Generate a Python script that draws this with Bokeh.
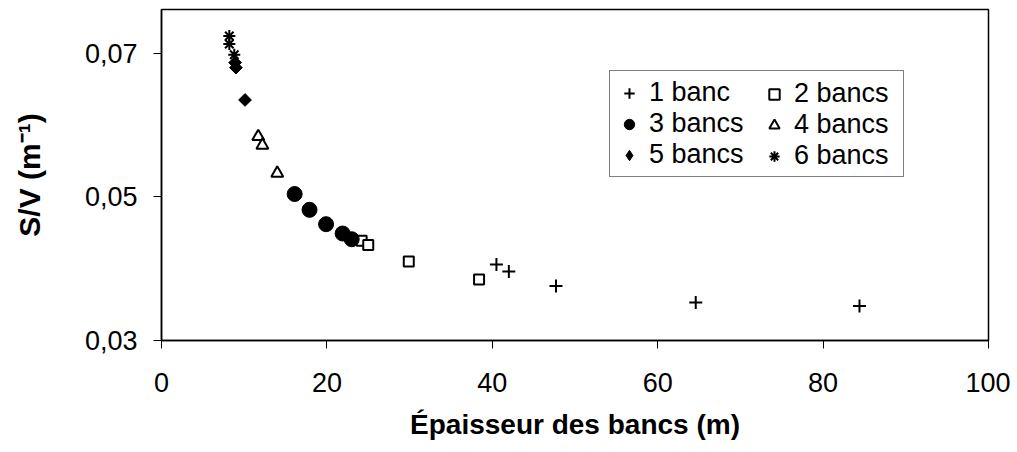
from bokeh.plotting import figure
from bokeh.models import Range1d, FixedTicker, CustomJSTickFormatter, Legend, LegendItem
from bokeh.embed import file_html
from bokeh.resources import INLINE

# Data
x1 = [40.5, 42.0, 47.7, 64.6, 84.4]
y1 = [0.0406, 0.0396, 0.0376, 0.0353, 0.0348]
x2 = [24.2, 25.0, 29.9, 38.4]
y2 = [0.0439, 0.0433, 0.0410, 0.0385]
x3 = [16.1, 17.9, 19.9, 21.9, 23.0]
y3 = [0.0504, 0.0482, 0.0462, 0.0449, 0.0441]
x4 = [11.7, 12.2, 14.0]
y4 = [0.0584, 0.0572, 0.0533]
x5 = [8.9, 9.0, 10.1]
y5 = [0.0687, 0.0680, 0.0635]
x6 = [8.2, 8.2, 8.8]
y6 = [0.0724, 0.0713, 0.0698]
labels = ["1 banc", "2 bancs", "3 bancs", "4 bancs", "5 bancs", "6 bancs"]
x_ticks = [0, 20, 40, 60, 80, 100]
y_ticks = [0.03, 0.05, 0.07]

FONT = "Liberation Sans"
W, H = 1010, 450

p = figure(width=W, height=H, output_backend="svg", toolbar_location=None,
           x_range=Range1d(0, 100), y_range=Range1d(0.03, 0.0761),
           min_border_left=161, min_border_right=W - 988, min_border_top=9,
           min_border_bottom=H - 340)
p.background_fill_color = "white"
p.border_fill_color = "white"
p.outline_line_color = "black"
p.outline_line_width = 1.5
p.xgrid.visible = False
p.ygrid.visible = False

for ax in (p.xaxis[0], p.yaxis[0]):
    ax.axis_line_color = "black"
    ax.axis_line_width = 1.5
    ax.major_tick_line_color = "black"
    ax.major_tick_line_width = 1
    ax.major_tick_out = 8
    ax.major_tick_in = 0
    ax.minor_tick_line_color = None
    ax.major_label_text_font = FONT
    ax.major_label_text_font_size = "27px"
    ax.major_label_text_color = "black"
    ax.axis_label_text_font = FONT
    ax.axis_label_text_font_style = "bold"
    ax.axis_label_text_color = "black"

p.xaxis.axis_label_text_font_size = "28px"
p.yaxis.axis_label_text_font_size = "30px"
p.xaxis.ticker = FixedTicker(ticks=x_ticks)
p.yaxis.ticker = FixedTicker(ticks=y_ticks)
p.yaxis.formatter = CustomJSTickFormatter(code="return tick.toFixed(2).replace('.', ',');")
p.xaxis.major_label_standoff = 24
p.yaxis.major_label_standoff = 16
p.xaxis.axis_label = "Épaisseur des bancs (m)"
p.yaxis.axis_label = "S/V (m⁻¹)"
p.xaxis.axis_label_standoff = 14
p.yaxis.axis_label_standoff = 36

r1 = p.scatter(x1, y1, marker="cross", size=13, line_color="black", line_width=2)
r2 = p.scatter(x2, y2, marker="square", size=10, line_color="black", line_width=2, fill_color="white")
r3 = p.scatter(x3, y3, marker="circle", size=15, line_color="black", fill_color="black")
r4 = p.scatter(x4, y4, marker="triangle", size=12, line_color="black", line_width=2, fill_color="white")
# the diamond glyph used by the legend sits under the rotated squares of the plot
r5_leg = p.scatter(x5, y5, marker="diamond", size=9, line_color="black", fill_color="black")
r5 = p.scatter(x5, y5, marker="square", size=9, angle=0.785398, line_color="black", fill_color="black")
r6 = p.scatter(x6, y6, marker="asterisk", size=12, line_color="black", line_width=2)

common = dict(label_text_font=FONT, label_text_font_size="27px", label_text_color="black",
              label_standoff=7, glyph_width=26, glyph_height=28, spacing=0,
              padding=6, margin=0, label_height=28, border_line_width=1)

leg_a = Legend(items=[LegendItem(label=labels[0], renderers=[r1]),
                      LegendItem(label=labels[2], renderers=[r3]),
                      LegendItem(label=labels[4], renderers=[r5_leg])],
               location=(448, 163), label_width=248,
               border_line_color="black",
               background_fill_color="white", background_fill_alpha=1.0, **common)
leg_b = Legend(items=[LegendItem(label=labels[1], renderers=[r2]),
                      LegendItem(label=labels[3], renderers=[r4]),
                      LegendItem(label=labels[5], renderers=[r6])],
               location=(594, 163), label_width=95,
               border_line_color="black", border_line_alpha=0.0,
               background_fill_color="white", background_fill_alpha=0.0, **common)
p.add_layout(leg_a, "center")
p.add_layout(leg_b, "center")

open("out.html", "w").write(file_html(p, INLINE))
